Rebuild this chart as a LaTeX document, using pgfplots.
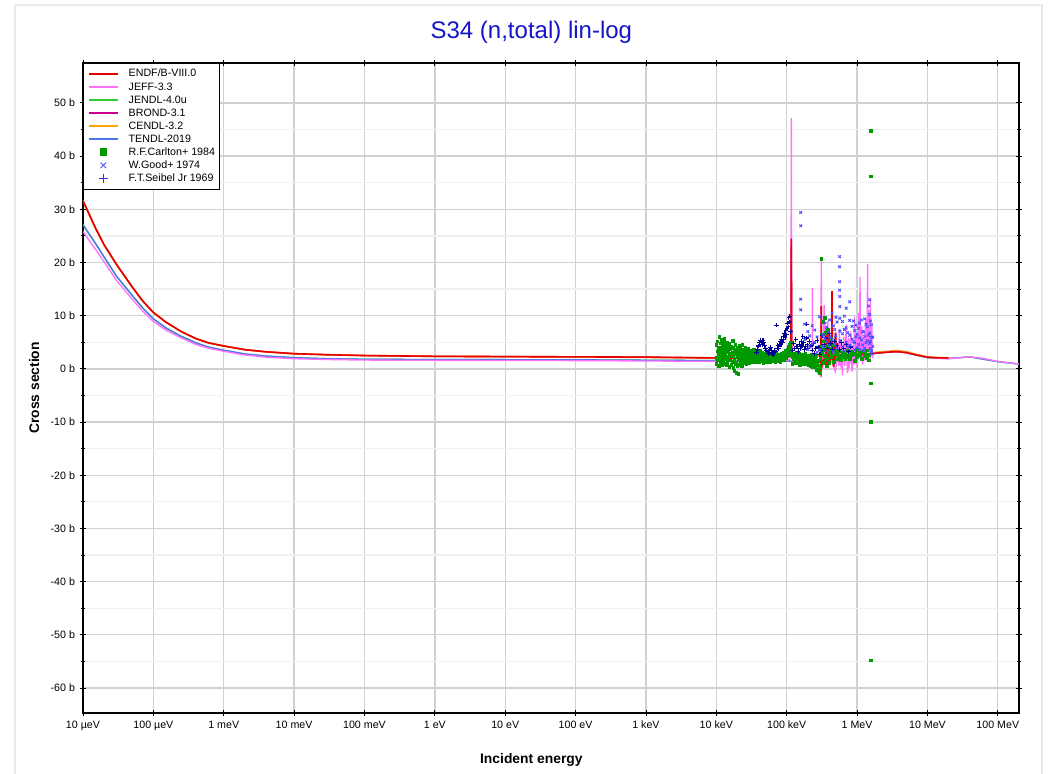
\documentclass[border=0pt]{standalone}
\usepackage{fontspec}
\setmainfont{Liberation Sans}
\usepackage{pgfplots}
\usepackage{pgfplotstable}
\pgfplotsset{compat=1.18}

\definecolor{endfred}{HTML}{E80000}
\definecolor{jeffpink}{HTML}{FF70FF}
\definecolor{jendlgreen}{HTML}{33CC33}
\definecolor{brondpurple}{HTML}{CC0088}
\definecolor{cendlorange}{HTML}{FFA500}
\definecolor{tendlblue}{HTML}{4A78E8}
\definecolor{carlton}{HTML}{009A00}
\definecolor{good}{HTML}{4D4DFF}
\definecolor{seibel}{HTML}{000099}
\definecolor{titleblue}{HTML}{1414C8}

% evaluated cross sections, E in eV, sigma in b
\pgfplotstableread{
E s
1e-5 31.6
1.5e-5 26.5
2e-5 23.3
3e-5 19.6
5e-5 15.4
7e-5 12.8
1e-4 10.6
1.5e-4 8.8
2.5e-4 7.0
4e-4 5.7
6e-4 4.9
1e-3 4.3
2e-3 3.6
4e-3 3.2
1e-2 2.85
3e-2 2.65
0.1 2.5
1 2.35
10 2.3
100 2.25
1000 2.2
1e4 2.05
3e4 1.95
6e4 1.95
9e4 2.1
1.10e5 2.5
1.15e5 5.5
1.163e5 24.5
1.175e5 3.5
1.23e5 1.6
1.6e5 1.5
2.0e5 1.3
2.5e5 1.0
2.8e5 0.5
2.95e5 -0.3
3.05e5 -0.8
3.1e5 11.8
3.13e5 0.3
3.3e5 1.6
3.6e5 2.0
3.66e5 7.9
3.71e5 1.0
3.9e5 2.0
3.95e5 7.3
4.0e5 1.4
4.35e5 2.1
4.4e5 14.6
4.45e5 2.6
4.65e5 0.4
4.75e5 2.2
4.95e5 6.8
5.05e5 2.3
5.6e5 2.6
7e5 2.6
1e6 2.7
1.5e6 2.8
2e6 3.0
3.6e6 3.25
5e6 3.05
7e6 2.6
1e7 2.2
1.4e7 2.05
2e7 2.05
}\endf

\pgfplotstableread{
E s
1e-5 31.6
1.5e-5 26.5
2e-5 23.3
3e-5 19.6
5e-5 15.4
7e-5 12.8
1e-4 10.6
1.5e-4 8.8
2.5e-4 7.0
4e-4 5.7
6e-4 4.9
1e-3 4.3
2e-3 3.6
4e-3 3.2
1e-2 2.85
3e-2 2.65
0.1 2.5
1 2.35
100 2.25
1e4 2.05
1e5 2.2
1e6 2.8
1.45e6 3.5
1.5e6 2.9
2e6 3.15
3.6e6 3.45
5e6 3.25
7e6 2.7
1e7 2.2
2e7 2.05
}\cendl

\pgfplotstableread{
E s
1e-5 27.1
1.5e-5 23.6
2e-5 21.0
3e-5 17.4
5e-5 13.8
7e-5 11.5
1e-4 9.4
1.5e-4 7.7
2.5e-4 6.1
4e-4 4.9
6e-4 4.1
1e-3 3.5
2e-3 2.8
4e-3 2.4
1e-2 2.1
3e-2 1.9
0.1 1.8
1 1.75
100 1.7
1e4 1.55
1e5 1.5
1.2e5 1.4
2.8e5 0.8
3e5 -0.2
3.2e5 1.5
1e6 2.5
1.5e6 2.7
2e6 3.0
3.6e6 3.25
5e6 3.05
1e7 2.1
2e7 1.95
4e7 2.25
1e8 1.35
2e8 0.9
}\tendl

\pgfplotstableread{
E s
1e-5 25.8
1.5e-5 22.5
2e-5 20.1
3e-5 16.6
5e-5 13.1
7e-5 10.9
1e-4 8.9
1.5e-4 7.3
2.5e-4 5.8
4e-4 4.6
6e-4 3.9
1e-3 3.3
2e-3 2.6
4e-3 2.2
1e-2 1.9
3e-2 1.75
0.1 1.65
1 1.6
100 1.55
1e4 1.4
5e4 1.4
9e4 1.45
1.10e5 1.8
1.15e5 4
1.162e5 47
1.168e5 47
1.175e5 3
1.22e5 1.2
1.6e5 1.1
2.0e5 0.9
2.30e5 1.0
2.315e5 15.2
2.33e5 1.0
2.6e5 0.5
2.9e5 -0.3
3.0e5 -1.0
3.05e5 0.5
3.1e5 20.3
3.13e5 0.2
3.3e5 1.2
3.4e5 12.0
3.45e5 1.0
3.8e5 1.5
3.85e5 9.0
3.9e5 0.8
4.2e5 2.0
4.5e5 1.0
4.9e5 -0.5
5.3e5 2.0
5.45e5 5.0
5.5e5 0.5
5.6e5 7.5
5.7e5 1.5
5.8e5 1.0
5.9e5 5.5
6.0e5 4.5
6.1e5 0.2
6.2e5 -1.2
6.35e5 3.8
6.5e5 6.0
6.6e5 1.8
6.7e5 0.5
6.85e5 4.0
7.0e5 8.2
7.15e5 2.2
7.3e5 -0.8
7.45e5 3.5
7.6e5 5.8
7.75e5 0.6
7.9e5 1.2
8.05e5 4.8
8.2e5 7.0
8.35e5 1.4
8.5e5 -0.5
8.65e5 3.0
8.8e5 4.5
9.0e5 0.8
9.2e5 9.8
9.35e5 2.5
9.5e5 1.0
9.65e5 5.2
9.8e5 6.5
9.95e5 1.8
1.01e6 0.2
1.03e6 4.0
1.05e6 10.5
1.065e6 3.0
1.08e6 2.0
1.09e6 7.0
1.10e6 17.3
1.115e6 4.5
1.13e6 1.5
1.15e6 5.5
1.17e6 8.0
1.185e6 2.0
1.20e6 0.8
1.22e6 4.2
1.24e6 6.0
1.26e6 1.6
1.28e6 2.5
1.30e6 7.2
1.33e6 9.5
1.35e6 3.0
1.37e6 1.5
1.39e6 6.5
1.41e6 19.7
1.43e6 5.0
1.45e6 3.5
1.47e6 7.5
1.50e6 11.0
1.515e6 3.0
1.53e6 1.5
1.55e6 13.0
1.565e6 4.0
1.58e6 2.5
1.60e6 6.0
1.62e6 8.0
1.64e6 3.5
1.65e6 2.0
1.70e6 3.0
2e6 3.0
3.6e6 3.25
5e6 3.05
7e6 2.6
1e7 2.15
1.4e7 1.95
2e7 1.9
4e7 2.25
6e7 2.0
1e8 1.4
2e8 0.9
}\jeff

% R.F.Carlton+ 1984, several readings per energy
\pgfplotstableread{
E a b c
1.00e4 2.1 4.6 0.9
1.03e4 3.3 1.6 5.2
1.07e4 2.7 0.6 4.0
1.10e4 3.8 1.9 6.1
1.14e4 1.2 3.0 4.8
1.18e4 2.4 5.5 0.8
1.22e4 3.6 1.5 4.3
1.26e4 2.0 4.9 3.1
1.30e4 0.9 2.8 5.6
1.34e4 3.9 1.8 2.6
1.39e4 4.4 0.7 3.2
1.43e4 2.2 5.0 1.3
1.48e4 3.5 1.7 4.1
1.53e4 2.9 0.4 4.7
1.58e4 1.6 3.7 2.4
1.63e4 4.2 2.6 0.8
1.69e4 3.0 1.4 5.3
1.74e4 2.5 4.0 0.2
1.80e4 1.9 3.4 -0.3
1.86e4 2.8 4.5 0.9
1.92e4 3.6 1.2 -0.8
1.99e4 2.2 3.9 0.5
2.05e4 1.6 2.9 -1.0
2.12e4 3.3 0.8 4.4
2.19e4 2.6 1.3 3.8
2.27e4 1.9 3.1 0.6
2.34e4 3.0 2.2 4.6
2.42e4 2.4 1.1 3.6
2.50e4 1.7 3.3 2.8
2.58e4 2.9 1.5 3.9
2.67e4 2.1 3.4 1.0
2.76e4 1.4 2.7 3.7
2.85e4 2.5 1.8 3.2
2.94e4 3.4 2.0 1.2
3.04e4 1.9 2.9 3.5
3.14e4 2.6 1.6 3.1
3.25e4 2.2 3.3 1.4
3.36e4 1.8 2.7 3.6
3.47e4 2.9 1.5 2.3
3.58e4 2.0 3.0 1.3
3.70e4 2.4 1.4 nan
3.82e4 3.2 1.9 nan
3.95e4 1.6 2.7 nan
4.08e4 2.9 1.3 nan
4.22e4 2.1 3.4 nan
4.36e4 1.5 2.6 nan
4.50e4 3.0 1.8 nan
4.65e4 2.3 1.2 nan
4.81e4 2.8 1.7 nan
4.97e4 1.4 2.5 nan
5.13e4 3.1 1.9 nan
5.30e4 2.0 2.7 nan
5.48e4 1.3 2.4 nan
5.66e4 2.9 1.6 nan
5.85e4 2.2 1.4 nan
6.04e4 2.6 1.8 nan
6.24e4 1.5 2.3 nan
6.45e4 2.8 1.9 nan
6.67e4 1.7 2.5 nan
6.89e4 2.4 1.3 nan
7.12e4 2.0 2.9 nan
7.35e4 1.6 2.2 nan
7.60e4 2.7 1.5 nan
7.85e4 1.9 2.4 nan
8.11e4 2.3 1.4 nan
8.38e4 1.7 2.8 nan
8.66e4 2.5 1.9 nan
8.95e4 2.1 3.0 nan
9.25e4 2.9 1.6 nan
9.55e4 2.4 3.4 nan
9.87e4 3.1 2.0 nan
1.02e5 3.6 2.4 nan
1.05e5 2.8 4.2 nan
1.08e5 3.9 2.6 nan
1.11e5 4.5 3.0 nan
1.14e5 3.4 5.0 nan
1.20e5 2.2 0.9 nan
1.24e5 1.8 2.9 nan
1.28e5 1.2 2.4 nan
1.33e5 2.6 1.5 nan
1.38e5 1.9 3.1 nan
1.43e5 1.1 2.3 nan
1.48e5 2.8 1.6 nan
1.53e5 2.0 0.8 nan
1.59e5 1.4 2.5 nan
1.65e5 2.7 1.9 nan
1.71e5 1.0 2.2 nan
1.77e5 2.4 1.5 nan
1.83e5 1.7 2.9 nan
1.90e5 0.9 2.1 nan
1.97e5 2.5 1.4 nan
2.04e5 1.8 0.7 nan
2.11e5 2.2 1.2 nan
2.19e5 0.6 1.9 nan
2.27e5 1.6 2.6 nan
2.35e5 1.1 0.4 nan
2.43e5 2.0 1.4 nan
2.52e5 0.3 1.7 nan
2.61e5 1.2 2.4 nan
2.70e5 -0.1 0.9 nan
2.80e5 1.5 -0.4 nan
2.90e5 0.6 -0.7 nan
3.00e5 1.9 0.2 nan
3.05e5 4.1 nan nan
3.10e5 20.7 nan nan
3.15e5 6.5 2.8 nan
3.25e5 8.9 3.6 nan
3.35e5 5.2 1.1 nan
3.45e5 9.6 2.4 nan
3.55e5 6.8 1.6 nan
3.70e5 4.3 0.5 nan
3.85e5 7.4 2.0 nan
4.00e5 3.1 1.2 nan
4.20e5 5.6 2.5 nan
4.40e5 2.2 3.8 nan
4.65e5 4.6 1.4 nan
4.90e5 2.9 3.5 nan
5.20e5 1.8 2.6 nan
5.50e5 3.3 2.1 nan
5.90e5 2.4 1.6 nan
6.30e5 3.0 2.2 nan
6.80e5 2.7 1.9 nan
7.30e5 3.4 2.3 nan
7.90e5 2.5 1.8 nan
8.50e5 3.2 2.6 nan
9.20e5 2.8 1.5 nan
1.00e6 3.6 2.2 nan
1.08e6 2.6 3.1 nan
1.17e6 3.3 1.9 nan
1.27e6 2.9 2.4 nan
1.38e6 3.5 2.0 nan
1.48e6 2.7 1.6 nan
1.57e6 44.7 36.2 -2.7
1.575e6 -10.0 -54.8 nan
}\carltondata

% W.Good+ 1974
\pgfplotstableread{
E a b c d
1.58e5 29.4 26.9 13.1 11.1
1.80e5 8.4 5.5 nan nan
2.00e5 7.0 3.6 nan nan
2.12e5 6.2 4.1 nan nan
2.30e5 4.7 8.1 nan nan
2.50e5 5.0 7.3 nan nan
2.70e5 6.0 3.1 nan nan
2.94e5 3.5 9.8 nan nan
3.30e5 6.4 4.2 nan nan
3.50e5 8.6 5.7 nan nan
3.70e5 7.8 5.1 3.4 nan
3.90e5 4.4 6.9 nan nan
4.08e5 9.2 6.0 nan nan
4.40e5 5.5 10.5 nan nan
4.60e5 8.1 3.2 nan nan
4.81e5 7.4 4.6 nan nan
5.00e5 6.2 9.7 nan nan
5.20e5 8.8 3.9 nan nan
5.64e5 21.1 19.2 16.4 14.8
5.68e5 13.6 11.7 9.5 7.1
5.72e5 5.3 nan nan nan
6.20e5 6.6 4.2 8.9 nan
6.60e5 7.4 3.3 9.9 nan
7.00e5 11.4 7.7 5.0 nan
7.40e5 6.8 4.1 nan nan
7.85e5 12.6 9.1 6.3 4.4
8.50e5 8.0 5.6 nan nan
8.90e5 9.0 5.1 nan nan
9.25e5 7.2 4.9 3.6 nan
9.60e5 6.0 8.2 nan nan
1.00e6 6.5 4.0 nan nan
1.05e6 7.6 4.6 nan nan
1.09e6 5.8 8.6 3.7 nan
1.15e6 9.2 5.4 nan nan
1.20e6 7.0 4.5 nan nan
1.24e6 6.9 3.5 nan nan
1.28e6 6.1 3.9 9.4 nan
1.34e6 8.4 4.9 nan nan
1.40e6 5.3 7.9 nan nan
1.45e6 6.3 11.8 nan nan
1.51e6 13.0 10.2 6.7 4.8
1.55e6 9.0 5.2 3.8 nan
1.60e6 8.3 5.9 3.4 2.9
1.67e6 6.0 4.2 nan nan
}\gooddata

% F.T.Seibel Jr 1969
\pgfplotstableread{
E s
3.70e4 3.1
3.85e4 3.6
4.00e4 4.3
4.10e4 4.9
4.25e4 5.3
4.40e4 5.0
4.50e4 4.6
4.60e4 5.4
4.75e4 5.0
4.85e4 4.4
5.00e4 3.9
5.15e4 3.5
5.30e4 3.2
5.45e4 2.8
5.60e4 3.1
5.75e4 3.6
5.90e4 4.0
6.00e4 3.4
6.20e4 2.9
6.40e4 2.6
6.60e4 3.0
6.80e4 3.5
7.00e4 3.2
7.20e4 8.2
7.30e4 3.9
7.50e4 4.4
7.70e4 3.8
7.90e4 4.6
8.10e4 5.2
8.30e4 4.5
8.50e4 5.6
8.70e4 5.0
8.90e4 6.1
9.10e4 5.5
9.30e4 6.6
9.50e4 5.9
9.70e4 7.2
9.90e4 6.4
1.01e5 7.5
1.03e5 8.6
1.05e5 7.9
1.07e5 9.6
1.09e5 8.8
1.11e5 9.9
1.13e5 7.0
1.20e5 3.5
1.25e5 4.8
1.30e5 3.9
1.35e5 5.5
1.40e5 4.2
1.45e5 3.3
1.50e5 4.6
1.55e5 3.8
1.60e5 5.2
1.65e5 4.4
1.70e5 6.1
1.75e5 4.9
1.80e5 3.6
1.85e5 4.2
1.90e5 5.8
1.92e5 8.4
1.95e5 4.5
2.00e5 3.9
2.10e5 5.1
2.20e5 4.3
2.30e5 3.5
2.40e5 4.7
2.50e5 2.9
2.60e5 3.8
2.70e5 5.3
2.80e5 4.1
2.90e5 2.7
3.00e5 3.4
3.20e5 6.2
3.40e5 4.5
3.60e5 5.8
3.80e5 3.9
4.00e5 6.6
4.20e5 4.8
4.50e5 3.7
4.80e5 5.2
5.20e5 4.4
5.60e5 3.6
6.00e5 5.0
6.50e5 3.9
7.00e5 4.6
7.50e5 3.2
8.00e5 4.1
}\seibeldata

\begin{document}
\begin{tikzpicture}
\path[use as bounding box] (0,0) rectangle (797.25pt,580.5pt);
\draw[black!8, line width=0.8pt] (11.25pt,-3pt) rectangle (781.5pt,576.75pt);
\begin{axis}[
    at={(62.25pt,45.75pt)}, anchor=south west,
    scale only axis, width=702pt, height=487.5pt,
    xmode=log, log basis x=10,
    xmin=1e-5, xmax=2e8, ymin=-64.7, ymax=57.5,
    xtick={1e-5,1e-4,1e-3,1e-2,1e-1,1,10,100,1e3,1e4,1e5,1e6,1e7,1e8},
    xticklabels={10 µeV,100 µeV,1 meV,10 meV,100 meV,1 eV,10 eV,100 eV,1 keV,10 keV,100 keV,1 MeV,10 MeV,100 MeV},
    xminorticks=false,
    ytick={-60,-50,...,50},
    yticklabels={-60 b,-50 b,-40 b,-30 b,-20 b,-10 b,0 b,10 b,20 b,30 b,40 b,50 b},
    minor y tick num=1,
    xmajorgrids, ymajorgrids, yminorgrids,
    major grid style={draw=black!18, line width=1pt},
    minor grid style={draw=black!6, line width=1pt},
    tick align=center, major tick length=5pt, minor tick length=3.5pt,
    tick style={black, line width=0.7pt},
    axis line style={line width=1.1pt},
    ticklabel style={font=\fontsize{8}{9.6}\selectfont},
    title={S34 (n,total) lin-log},
    title style={at={(axis description cs:0.479,1.026)}, anchor=base,
        font=\fontsize{18}{21}\selectfont, color=titleblue},
    xlabel={Incident energy}, ylabel={Cross section},
    xlabel style={at={(axis description cs:0.479,-0.077)}, anchor=base,
        font=\bfseries\fontsize{10.4}{12}\selectfont},
    ylabel style={at={(axis description cs:-0.047,0.5)}, anchor=base,
        font=\bfseries\fontsize{10.4}{12}\selectfont},
    legend image code/.code={
        \draw[mark repeat=2,mark phase=2,#1]
            plot coordinates {(2pt,0pt) (13pt,0pt) (24pt,0pt)};
        \path[draw=none, fill=none] (0pt,0pt) -- (31pt,0pt);},
    legend cell align=left,
    legend style={at={(axis description cs:0,1)}, anchor=north west,
        draw=black, line width=0.6pt, fill=white,
        font=\fontsize{8}{9}\selectfont,
        nodes={inner sep=1pt, text height=6.2pt, text depth=1.6pt},
        inner xsep=2pt, inner ysep=3pt},
]
\addlegendimage{endfred, line width=1.2pt}
\addlegendentry{ENDF/B-VIII.0}
\addlegendimage{jeffpink, line width=1.2pt}
\addlegendentry{JEFF-3.3}
\addlegendimage{jendlgreen, line width=1.2pt}
\addlegendentry{JENDL-4.0u}
\addlegendimage{brondpurple, line width=1.2pt}
\addlegendentry{BROND-3.1}
\addlegendimage{cendlorange, line width=1.2pt}
\addlegendentry{CENDL-3.2}
\addlegendimage{tendlblue, line width=1.2pt}
\addlegendentry{TENDL-2019}
\addlegendimage{only marks, mark=square*, mark size=2.6pt, carlton}
\addlegendentry{R.F.Carlton+ 1984}
\addlegendimage{only marks, mark=x, mark size=3pt, good, line width=0.6pt}
\addlegendentry{W.Good+ 1974}
\addlegendimage{only marks, mark=+, mark size=3.4pt, good!70!seibel, line width=0.6pt}
\addlegendentry{F.T.Seibel Jr 1969}

% measurements
\addplot[forget plot, only marks, mark=square*, mark size=1.05pt, carlton] table[x=E, y=a] {\carltondata};
\addplot[forget plot, only marks, mark=square*, mark size=1.05pt, carlton] table[x=E, y=b] {\carltondata};
\addplot[forget plot, only marks, mark=square*, mark size=1.05pt, carlton] table[x=E, y=c] {\carltondata};
\addplot[forget plot, only marks, mark=+, mark size=1.7pt, seibel, line width=0.8pt] table[x=E, y=s] {\seibeldata};
\addplot[forget plot, only marks, mark=x, mark size=1.4pt, good, line width=0.7pt] table[x=E, y=a] {\gooddata};
\addplot[forget plot, only marks, mark=x, mark size=1.4pt, good, line width=0.7pt] table[x=E, y=b] {\gooddata};
\addplot[forget plot, only marks, mark=x, mark size=1.4pt, good, line width=0.7pt] table[x=E, y=c] {\gooddata};
\addplot[forget plot, only marks, mark=x, mark size=1.4pt, good, line width=0.7pt] table[x=E, y=d] {\gooddata};

% evaluations
\addplot[forget plot, jendlgreen, line width=1pt] table[x=E, y=s] {\tendl};
\addplot[forget plot, brondpurple, line width=1pt] table[x=E, y=s] {\endf};
\addplot[forget plot, cendlorange, line width=1.2pt] table[x=E, y=s] {\cendl};
\addplot[forget plot, tendlblue, line width=1pt] table[x=E, y=s] {\tendl};
\addplot[forget plot, jeffpink, line width=1pt] table[x=E, y=s] {\jeff};
\addplot[forget plot, endfred, line width=1.2pt] table[x=E, y=s] {\endf};
\end{axis}
\end{tikzpicture}
\end{document}
